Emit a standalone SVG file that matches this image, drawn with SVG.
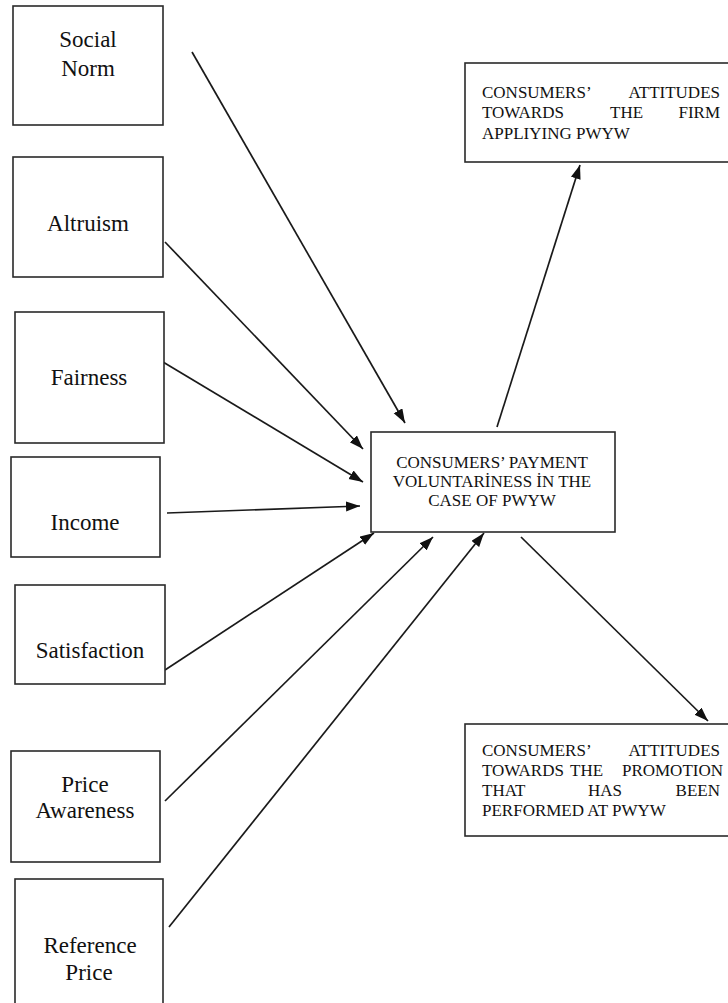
<svg xmlns="http://www.w3.org/2000/svg" width="728" height="1003" viewBox="0 0 728 1003">
<style>
.box{fill:#fff;stroke:#2a2a2a;stroke-width:1.6}
.lbl{font-family:'Liberation Serif','Tinos','Times New Roman','DejaVu Serif',serif;font-size:23px;fill:#111;text-anchor:middle}
.cap{font-family:'Liberation Serif','Tinos','Times New Roman','DejaVu Serif',serif;font-size:17px;fill:#111}
.mid{text-anchor:middle}
.end{text-anchor:end}
.con{stroke:#1a1a1a;stroke-width:1.7;fill:none;marker-end:url(#ah)}
</style>
<defs>
<marker id="ah" markerUnits="userSpaceOnUse" markerWidth="15" markerHeight="11" refX="14" refY="5" orient="auto">
<path d="M0,0 L14,5 L0,10 z" fill="#111"/>
</marker>
</defs>
<rect width="728" height="1003" fill="#fff"/>
<g id="connectors">
<line class="con" x1="192" y1="52" x2="405" y2="423"/>
<line class="con" x1="165" y1="242" x2="363" y2="449"/>
<line class="con" x1="163" y1="362" x2="363" y2="482"/>
<line class="con" x1="167" y1="513" x2="360" y2="506"/>
<line class="con" x1="165" y1="670" x2="374" y2="533"/>
<line class="con" x1="165" y1="801" x2="433" y2="537"/>
<line class="con" x1="169" y1="927" x2="484" y2="533"/>
<line class="con" x1="497" y1="427" x2="580" y2="165"/>
<line class="con" x1="521" y1="537" x2="708" y2="721"/>
</g>
<g id="social-norm">
<rect class="box" x="13" y="6" width="150" height="119"/>
<text class="lbl" x="88" y="47" font-family="Liberation Serif, serif">Social</text>
<text class="lbl" x="88" y="76" font-family="Liberation Serif, serif">Norm</text>
</g>
<g id="altruism">
<rect class="box" x="13" y="157" width="150" height="120"/>
<text class="lbl" x="88" y="231">Altruism</text>
</g>
<g id="fairness">
<rect class="box" x="15" y="312" width="149" height="131"/>
<text class="lbl" x="89" y="385">Fairness</text>
</g>
<g id="income">
<rect class="box" x="11" y="457" width="149" height="100"/>
<text class="lbl" x="85" y="530">Income</text>
</g>
<g id="satisfaction">
<rect class="box" x="15" y="585" width="150" height="99"/>
<text class="lbl" x="90" y="658">Satisfaction</text>
</g>
<g id="price-awareness">
<rect class="box" x="11" y="751" width="149" height="111"/>
<text class="lbl" x="85" y="792">Price</text>
<text class="lbl" x="85" y="818">Awareness</text>
</g>
<g id="reference-price">
<rect class="box" x="15" y="879" width="148" height="140"/>
<text class="lbl" x="90" y="953">Reference</text>
<text class="lbl" x="89" y="980">Price</text>
</g>
<g id="payment-voluntariness">
<rect class="box" x="371" y="432" width="244" height="100"/>
<text class="cap mid" x="492" y="468">CONSUMERS’ PAYMENT</text>
<text class="cap mid" x="492" y="487">VOLUNTARİNESS İN THE</text>
<text class="cap mid" x="492" y="506">CASE OF PWYW</text>
</g>
<g id="attitudes-firm">
<rect class="box" x="465" y="63" width="275" height="99"/>
<text class="cap" x="482" y="98">CONSUMERS’</text>
<text class="cap end" x="720" y="98">ATTITUDES</text>
<text class="cap" x="482" y="118">TOWARDS</text>
<text class="cap" x="610" y="118">THE</text>
<text class="cap end" x="720" y="118">FIRM</text>
<text class="cap" x="482" y="139">APPLIYING PWYW</text>
</g>
<g id="attitudes-promotion">
<rect class="box" x="465" y="724" width="275" height="112"/>
<text class="cap" x="482" y="756">CONSUMERS’</text>
<text class="cap end" x="720" y="756">ATTITUDES</text>
<text class="cap" x="482" y="776">TOWARDS</text>
<text class="cap" x="570" y="776">THE</text>
<text class="cap end" x="723" y="776">PROMOTION</text>
<text class="cap" x="482" y="796">THAT</text>
<text class="cap" x="588" y="796">HAS</text>
<text class="cap end" x="720" y="796">BEEN</text>
<text class="cap" x="482" y="816">PERFORMED AT PWYW</text>
</g>
</svg>
